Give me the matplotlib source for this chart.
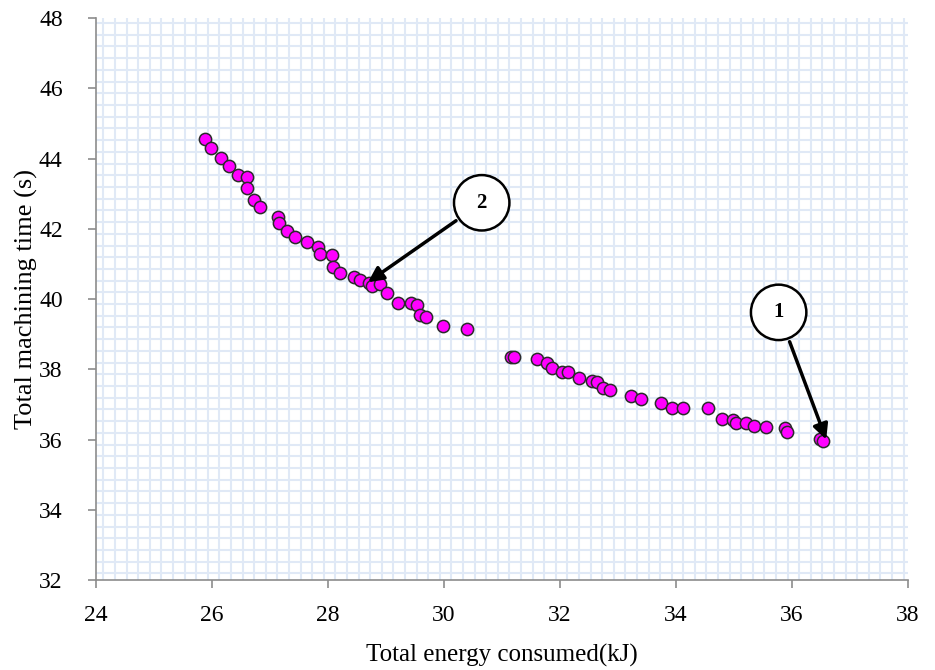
import matplotlib
matplotlib.use("Agg")
import matplotlib.pyplot as plt
from matplotlib.ticker import MultipleLocator

plt.rcParams["font.family"] = ["Liberation Serif", "DejaVu Serif"]

energy = [25.88, 25.99, 26.15, 26.30, 26.45, 26.60, 26.61, 26.73, 26.83, 27.13,
          27.16, 27.29, 27.43, 27.63, 27.82, 27.87, 28.07, 28.09, 28.21, 28.44,
          28.55, 28.71, 28.75, 28.90, 29.01, 29.21, 29.43, 29.54, 29.59, 29.69,
          29.99, 30.40, 31.15, 31.21, 31.60, 31.77, 31.86, 32.03, 32.14, 32.32,
          32.55, 32.64, 32.75, 32.86, 33.22, 33.40, 33.75, 33.93, 34.12, 34.56,
          34.79, 34.99, 35.03, 35.21, 35.34, 35.56, 35.88, 35.92, 36.48, 36.54]
mtime = [44.55, 44.29, 44.01, 43.78, 43.53, 43.48, 43.15, 42.81, 42.63, 42.34,
         42.16, 41.94, 41.77, 41.61, 41.49, 41.27, 41.25, 40.92, 40.73, 40.64,
         40.54, 40.46, 40.37, 40.43, 40.16, 39.88, 39.88, 39.83, 39.54, 39.48,
         39.23, 39.15, 38.34, 38.34, 38.29, 38.19, 38.03, 37.91, 37.91, 37.74,
         37.67, 37.63, 37.46, 37.41, 37.24, 37.15, 37.03, 36.91, 36.89, 36.89,
         36.58, 36.56, 36.47, 36.46, 36.38, 36.35, 36.32, 36.22, 36.01, 35.96]

ann_labels = ["1", "2"]
ann_targets = [(36.59, 36.00), (28.69, 40.48)]
ann_centers = [(35.77, 39.62), (30.65, 42.74)]

xlim = (24, 38)
ylim = (32, 48)

fig = plt.figure(figsize=(9.35, 6.7), dpi=100)
ax = fig.add_axes([0.1027, 0.1343, 0.8684, 0.8388])

ax.set_xlim(*xlim)
ax.set_ylim(*ylim)
ax.xaxis.set_major_locator(MultipleLocator(2))
ax.yaxis.set_major_locator(MultipleLocator(2))
ax.xaxis.set_minor_locator(MultipleLocator(0.2, offset=0.126))
ax.yaxis.set_minor_locator(MultipleLocator(1/3, offset=45.856 - 46))
ax.grid(which="minor", color="#e0e9f6", linewidth=1.5)
ax.grid(which="major", visible=False)
ax.tick_params(which="minor", length=0)
ax.set_axisbelow(True)

for s in ["top", "right"]:
    ax.spines[s].set_visible(False)
for s in ["left", "bottom"]:
    ax.spines[s].set_color("#8c8c8c")
    ax.spines[s].set_linewidth(1.2)
ax.tick_params(which="major", direction="out", length=6, width=1.2,
               color="#8c8c8c", labelsize=17)
ax.tick_params(axis="y", pad=18)
ax.tick_params(axis="x", pad=12)

ax.scatter(energy, mtime, s=78, facecolor="#ff00ff", edgecolor="#2b2b2b",
           linewidth=1.1, zorder=3)

for lab, tgt, cen in zip(ann_labels, ann_targets, ann_centers):
    ax.annotate(lab, xy=tgt, xytext=cen, ha="center", va="center",
                fontsize=15, fontweight="bold",
                bbox=dict(boxstyle="circle,pad=0.85", fc="white", ec="black", lw=1.8),
                arrowprops=dict(arrowstyle="-|>,head_length=0.6,head_width=0.3",
                                color="black", lw=2.5, shrinkB=0),
                zorder=4)

ax.set_xlabel("Total energy consumed(kJ)", fontsize=18, labelpad=13)
ax.set_ylabel("Total machining time (s)", fontsize=19, labelpad=1)

fig.savefig("out.png", dpi=100)
